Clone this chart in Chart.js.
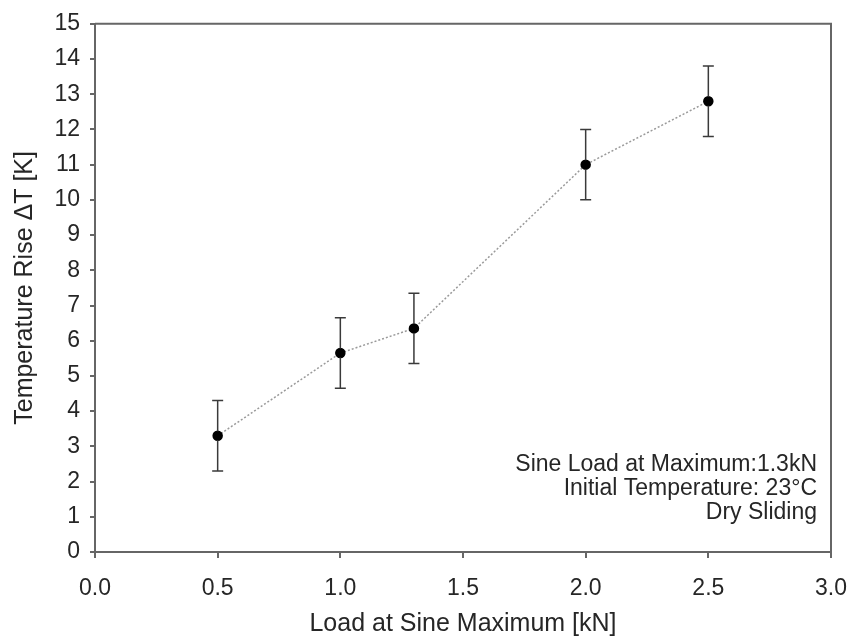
<!DOCTYPE html>
<html>
<head>
<meta charset="utf-8">
<script src="https://cdn.jsdelivr.net/npm/chart.js@4.4.1/dist/chart.umd.min.js"></script>
<style>
  html, body { margin: 0; padding: 0; background: #fff; }
  #wrap { width: 851px; height: 639px; position: relative; }
</style>
</head>
<body>
<div id="wrap"><canvas id="c" width="851" height="639"></canvas></div>
<script>
// Data
const loads = [0.5, 1.0, 1.3, 2.0, 2.5];          // Load at Sine Maximum [kN]
const tempRise = [3.3, 5.65, 6.35, 11.0, 12.8];   // Temperature Rise ΔT [K]
const errPlus = [1.0, 1.0, 1.0, 1.0, 1.0];
const errMinus = [1.0, 1.0, 1.0, 1.0, 1.0];
const noteLines = ['Sine Load at Maximum:1.3kN', 'Initial Temperature: 23°C', 'Dry Sliding'];
const xTitle = 'Load at Sine Maximum [kN]';
const yTitle = 'Temperature Rise \u0394T [K]';

const FONT = "'Liberation Sans', Arial, sans-serif";
const TXT = '#262626';
const AXIS = '#666';

const points = loads.map((x, i) => ({ x: x, y: tempRise[i] }));

const errorBars = {
  id: 'errorBars',
  afterDatasetsDraw(chart) {
    const ctx = chart.ctx;
    const xs = chart.scales.x, ys = chart.scales.y;
    ctx.save();
    ctx.strokeStyle = '#3a3a3a';
    ctx.lineWidth = 1.5;
    loads.forEach((x, i) => {
      const px = xs.getPixelForValue(x);
      const top = ys.getPixelForValue(tempRise[i] + errPlus[i]);
      const bot = ys.getPixelForValue(tempRise[i] - errMinus[i]);
      ctx.beginPath();
      ctx.moveTo(px, top); ctx.lineTo(px, bot);
      ctx.moveTo(px - 5.5, top); ctx.lineTo(px + 5.5, top);
      ctx.moveTo(px - 5.5, bot); ctx.lineTo(px + 5.5, bot);
      ctx.stroke();
    });
    const meta = chart.getDatasetMeta(0);
    ctx.fillStyle = '#000';
    meta.data.forEach(el => {
      ctx.beginPath();
      ctx.arc(el.x, el.y, 4.5, 0, Math.PI * 2);
      ctx.fill();
    });
    ctx.restore();
  }
};

const frameAndNote = {
  id: 'frameAndNote',
  afterDraw(chart) {
    const ctx = chart.ctx;
    const a = chart.chartArea;
    ctx.save();
    ctx.strokeStyle = AXIS;
    ctx.lineWidth = 2;
    ctx.beginPath();
    ctx.moveTo(a.left, a.top); ctx.lineTo(a.right, a.top); ctx.lineTo(a.right, a.bottom);
    ctx.stroke();
    ctx.fillStyle = TXT;
    ctx.font = '23px ' + FONT;
    ctx.textAlign = 'right';
    ctx.textBaseline = 'middle';
    const xr = a.right - 14;
    noteLines.forEach((t, i) => ctx.fillText(t, xr, 465 + i * 24));
    ctx.restore();
  }
};

new Chart(document.getElementById('c'), {
  type: 'scatter',
  data: {
    datasets: [{
      data: points,
      showLine: true,
      borderColor: '#9a9a9a',
      borderWidth: 1.5,
      borderDash: [2, 2],
      pointRadius: 4.5,
      pointBackgroundColor: '#000',
      pointBorderColor: '#000',
      tension: 0
    }]
  },
  options: {
    responsive: false,
    animation: false,
    events: [],
    layout: { padding: { left: 0, right: 20, top: 23, bottom: 0 } },
    plugins: { legend: { display: false }, tooltip: { enabled: false } },
    scales: {
      x: {
        type: 'linear',
        min: 0, max: 3,
        afterFit(s) { s.height = 87; s.paddingRight = 0; },
        ticks: {
          stepSize: 0.5,
          color: TXT,
          font: { family: FONT, size: 23 },
          padding: 17,
          callback: v => Number(v).toFixed(1)
        },
        grid: { drawOnChartArea: false, drawTicks: true, tickLength: 6, color: AXIS, lineWidth: 2 },
        border: { display: true, color: AXIS, width: 2 },
        title: {
          display: true, text: xTitle, color: TXT,
          font: { family: FONT, size: 25 },
          padding: { top: 6, bottom: 0 }
        }
      },
      y: {
        type: 'linear',
        min: 0, max: 15,
        afterFit(s) { s.width = 95; },
        ticks: {
          stepSize: 1,
          color: TXT,
          font: { family: FONT, size: 23 },
          padding: 10
        },
        grid: { drawOnChartArea: false, drawTicks: true, tickLength: 5, color: AXIS, lineWidth: 2 },
        border: { display: true, color: AXIS, width: 2 },
        title: {
          display: true, text: yTitle, color: TXT,
          font: { family: FONT, size: 25 },
          padding: { top: 10, bottom: 0 }
        }
      }
    }
  },
  plugins: [errorBars, frameAndNote]
});
</script>
</body>
</html>
